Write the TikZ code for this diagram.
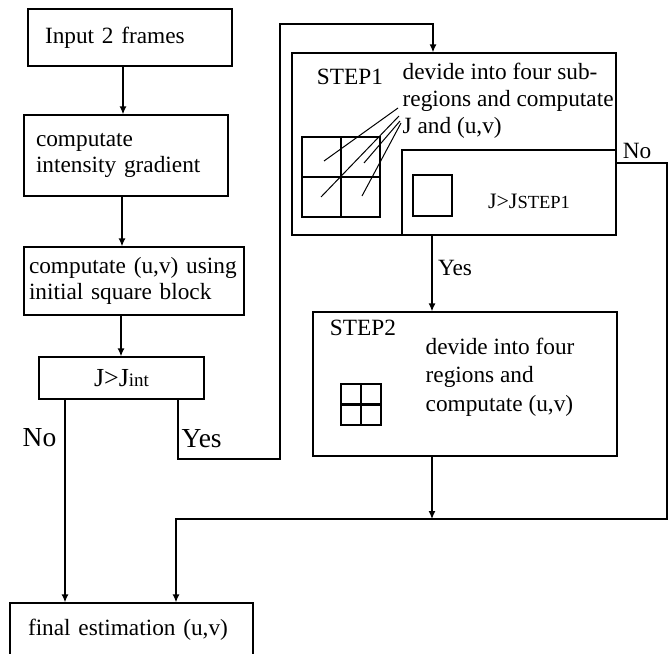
\documentclass[tikz,border=0pt]{standalone}
\usepackage{fontspec}
\setmainfont{Liberation Serif}
\usetikzlibrary{arrows.meta}
\newcommand{\smalltxt}[2]{{\fontsize{#1pt}{#1pt}\selectfont #2}}
\begin{document}
\begin{tikzpicture}[x=1pt,y=-1pt,line width=1.3pt,
  every node/.style={font=\fontsize{23.3pt}{26pt}\selectfont},
  box/.style={draw,rectangle,inner ysep=0pt},
  lbl/.style={inner sep=0pt},
  biglbl/.style={inner sep=0pt,font=\fontsize{27.5pt}{30pt}\selectfont},
  arr/.style={-{Latex[length=8pt,width=7pt]}},
  leader/.style={line width=1pt},
  thickgrid/.style={line width=2.2pt}]
\useasboundingbox (0,0) rectangle (671,653);
% left column
\node[box,minimum width=204pt,minimum height=57pt,inner xsep=17pt,text width=170pt,align=left] (b1) at (130,37.5) {Input 2 frames};
\node[box,minimum width=204pt,minimum height=81pt,inner xsep=12pt,text width=180pt,align=left] (b2) at (126,155.5) {computate\\intensity gradient};
\node[box,minimum width=220pt,minimum height=68pt,inner xsep=5pt,text width=210pt,align=left] (b3) at (134,281) {computate (u,v) using\\initial square block};
\node[box,minimum width=165pt,minimum height=42pt,inner xsep=0pt,font=\fontsize{26pt}{28pt}\selectfont] (b4) at (121.5,378) {J>J\smalltxt{19}{int}};
\node[box,minimum width=243pt,minimum height=54pt,inner xsep=18pt,text width=207pt,align=left] (fin) at (131.5,630) {final estimation (u,v)};
% STEP1
\node[box,minimum width=324pt,minimum height=182pt] (s1) at (454,144) {};
\node[box,minimum width=214pt,minimum height=85pt] (j1) at (509,192.5) {};
\node[lbl] (s1t) at (350,77) {STEP1};
\node[lbl,anchor=west,align=left,font=\fontsize{23.3pt}{27pt}\selectfont] (s1d) at (402,101) {devide into four sub-\\regions and computate\\J and (u,v)};
\node[lbl,font=\fontsize{22pt}{24pt}\selectfont] (j1t) at (529,201) {J>J\smalltxt{18.5}{STEP1}};
\draw[line width=1.2pt] (413,175) rectangle (452,216);
\draw (302,137) rectangle (380,217);
\draw[thickgrid] (341,137) -- (341,217) (302,177) -- (380,177);
\draw[leader] (398,108) -- (324,161);
\draw[leader] (399,116) -- (321,197);
\draw[leader] (400,121) -- (364,163);
\draw[leader] (401,123) -- (362,196);
% STEP2
\node[box,minimum width=304pt,minimum height=144pt] (s2) at (465,384) {};
\node[lbl] (s2t) at (363,328) {STEP2};
\node[lbl,anchor=west,align=left,font=\fontsize{23.3pt}{28.5pt}\selectfont] (s2d) at (425,377) {devide into four\\regions and\\computate (u,v)};
\draw (341,384) rectangle (381,425);
\draw[thickgrid] (361,384) -- (361,425) (341,404.5) -- (381,404.5);
% labels
\node[biglbl,anchor=east] (no1) at (57,438) {No};
\node[biglbl,anchor=west] (yes1) at (181,439) {Yes};
\node[lbl] (yes2) at (455,268) {Yes};
\node[lbl] (no2) at (637,151) {No};
% coordinates
\coordinate (ya) at (178,459);
\coordinate (yb) at (280,24);
\coordinate (yc) at (433,24);
\coordinate (nx) at (65,500);
\coordinate (ax) at (432,270);
\coordinate (jn) at (432,519);
\coordinate (nr) at (667,163);
\coordinate (nf) at (176,519);
% connectors
\draw[arr] (b1.south -| 123,0) -- (b2.north -| 123,0);
\draw[arr] (b2.south -| 122,0) -- (b3.north -| 122,0);
\draw[arr] (b3.south -| 121,0) -- (b4.north -| 121,0);
\draw[arr] (b4.south -| ya) -- (ya) -- (ya -| yb) -- (yb) -- (yc) -- (s1.north -| yc);
\draw[arr] (b4.south -| nx) -- (fin.north -| nx);
\draw[arr] (j1.south -| ax) -- (s2.north -| ax);
\draw[arr] (s2.south -| jn) -- (jn);
\draw[arr] (j1.east |- nr) -- (nr) |- (nf) -- (fin.north -| nf);
\end{tikzpicture}
\end{document}
